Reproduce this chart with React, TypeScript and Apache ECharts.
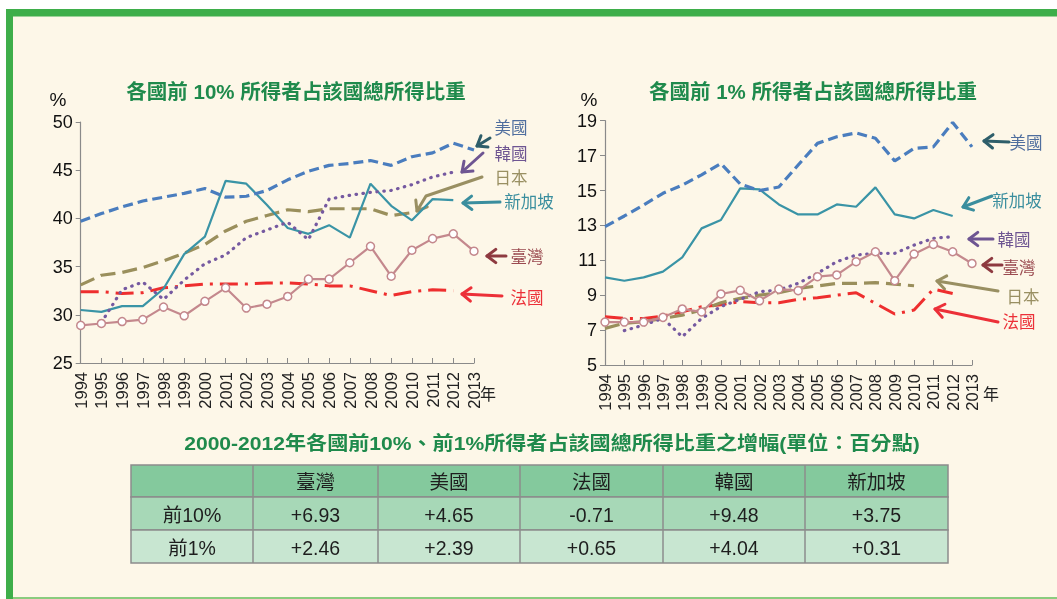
import React, { useEffect, useRef } from "react";
import * as echarts from "echarts";

const years = ["1994","1995","1996","1997","1998","1999","2000","2001","2002","2003","2004","2005","2006","2007","2008","2009","2010","2011","2012","2013"];

// Top 10% share
const us10 = [39.7,40.5,41.2,41.8,42.2,42.6,43.1,42.2,42.3,42.9,44.0,44.9,45.5,45.7,46.0,45.5,46.4,46.8,47.8,47.1];
const korea10 = [null,29.2,32.6,33.4,31.6,33.6,35.3,36.2,38.0,38.8,39.6,37.8,42.0,42.4,42.7,42.9,43.5,44.3,44.8,null];
const japan10 = [33.1,34.1,34.4,34.9,35.6,36.4,37.3,38.7,39.7,40.3,40.9,40.7,41.0,41.0,41.0,40.3,40.6,null,null,null];
const sg10 = [30.5,30.3,30.9,30.9,32.7,36.3,38.1,43.9,43.6,41.4,39.0,38.4,39.3,38.0,43.6,41.3,39.8,42.0,41.9,null];
const tw10 = [28.9,29.1,29.3,29.5,30.8,29.9,31.4,32.8,30.7,31.1,31.9,33.7,33.7,35.4,37.1,34.0,36.7,37.9,38.4,36.6];
const fr10 = [32.4,32.4,32.2,32.3,32.8,33.0,33.2,33.2,33.2,33.3,33.3,33.2,33.0,33.0,32.5,32.0,32.4,32.6,32.5,null];

// Top 1% share
const us1 = [12.93,13.54,14.17,14.84,15.31,15.9,16.55,15.37,15.0,15.2,16.46,17.7,18.08,18.3,17.99,16.7,17.41,17.5,18.9,17.5];
const sg1 = [10.02,9.83,10.02,10.35,11.17,12.83,13.31,15.12,15.06,14.2,13.63,13.63,14.2,14.07,15.18,13.63,13.4,13.88,13.54,null];
const tw1 = [7.46,7.46,7.46,7.73,8.21,8.04,9.07,9.28,8.68,9.35,9.26,10.06,10.16,10.92,11.49,9.83,11.36,11.91,11.49,10.82];
const korea1 = [null,6.97,7.29,7.67,6.62,7.67,8.35,8.76,9.2,9.3,9.68,10.25,10.92,11.3,11.4,11.4,11.87,12.26,12.35,null];
const japan1 = [7.1,7.39,7.48,7.67,7.86,8.15,8.57,8.82,9.0,9.14,9.39,9.53,9.68,9.68,9.72,9.64,9.54,null,null,null];
const fr1 = [7.77,7.67,7.67,7.8,8.05,8.34,8.45,8.63,8.57,8.57,8.76,8.86,9.0,9.14,8.53,7.92,8.15,9.35,9.1,null];

const leftTicks = [25, 50, 5];
const rightTicks = [5, 19, 2];

// table
const tableCols = ["臺灣", "美國", "法國", "韓國", "新加坡"];
const rowLabels = ["前10%", "前1%"];
const change10 = ["+6.93", "+4.65", "-0.71", "+9.48", "+3.75"];
const change1 = ["+2.46", "+2.39", "+0.65", "+4.04", "+0.31"];

const titleLeft = "各國前 10% 所得者占該國總所得比重";
const titleRight = "各國前 1% 所得者占該國總所得比重";
const tableTitle = "2000-2012年各國前10%、前1%所得者占該國總所得比重之增幅(單位：百分點)";

const C = {
  us: "#4A7DBE",
  korea: "#7559A0",
  japan: "#9A8F5C",
  sg: "#3A94A6",
  tw: "#C4888D",
  fr: "#EE2E2E",
};
const LBL = {
  us: "#4F6E9E",
  usArrow: "#2E5E6A",
  korea: "#6E5592",
  japan: "#998F62",
  sg: "#3A8E9E",
  tw: "#9A4A50",
  twArrow: "#8E3A40",
  fr: "#EC3038",
};

const FONT = "'Liberation Sans', Arial, 'Noto Sans CJK TC', sans-serif";
const CJK = "'Noto Sans CJK TC', 'Liberation Sans', sans-serif";

function arrow(x1: number, y1: number, x2: number, y2: number, color: string, pts?: number[][]) {
  const path = pts ? pts : [[x1, y1], [x2, y2]];
  const n = path.length;
  const [px, py] = path[n - 2];
  const [tx, ty] = path[n - 1];
  const ang = Math.atan2(ty - py, tx - px);
  const L = 11;
  const w = 0.65;
  const a1 = [tx - L * Math.cos(ang - w), ty - L * Math.sin(ang - w)];
  const a2 = [tx - L * Math.cos(ang + w), ty - L * Math.sin(ang + w)];
  return {
    type: "group",
    children: [
      { type: "polyline", shape: { points: path }, style: { stroke: color, lineWidth: 3, fill: null, lineCap: "round", lineJoin: "round" } },
      { type: "polyline", shape: { points: [a1, [tx, ty], a2] }, style: { stroke: color, lineWidth: 3, fill: null, lineCap: "round", lineJoin: "round" } },
    ],
  };
}

function label(text: string, x: number, y: number, color: string) {
  return {
    type: "text",
    x,
    y,
    style: { text, fill: color, font: `16.5px ${CJK}`, align: "center", verticalAlign: "middle" },
  };
}

function lineSeries(name: string, data: (number | null)[], color: string, axisIdx: number, style: any, extra: any = {}) {
  return {
    name,
    type: "line",
    xAxisIndex: axisIdx,
    yAxisIndex: axisIdx,
    data,
    symbol: "none",
    connectNulls: false,
    lineStyle: { color, width: 3, ...style },
    itemStyle: { color },
    silent: true,
    z: 3,
    ...extra,
  };
}

function buildTable() {
  const colX = [131, 253, 378, 520, 663, 805, 948];
  const rowY = [465, 497, 530, 563];
  const fills = ["#84C99D", "#A7D8B7", "#C8E6D1"];
  const els: any[] = [];
  for (let r = 0; r < 3; r++) {
    els.push({
      type: "rect",
      shape: { x: colX[0], y: rowY[r], width: colX[6] - colX[0], height: rowY[r + 1] - rowY[r] },
      style: { fill: fills[r], stroke: "#8C8C8C", lineWidth: 1.5 },
    });
  }
  for (let c = 1; c < 6; c++) {
    els.push({
      type: "line",
      shape: { x1: colX[c], y1: rowY[0], x2: colX[c], y2: rowY[3] },
      style: { stroke: "#8C8C8C", lineWidth: 1.5 },
    });
  }
  const rows = [tableCols, change10, change1];
  for (let r = 0; r < 3; r++) {
    const cells = r === 0 ? ["", ...tableCols] : [rowLabels[r - 1], ...rows[r]];
    for (let c = 0; c < 6; c++) {
      if (!cells[c]) continue;
      els.push({
        type: "text",
        x: (colX[c] + colX[c + 1]) / 2,
        y: (rowY[r] + rowY[r + 1]) / 2 + 1,
        style: { text: cells[c], fill: "#1E1E1E", font: `19.5px ${FONT}`, align: "center", verticalAlign: "middle" },
      });
    }
  }
  return els;
}

export default function App() {
  const ref = useRef<HTMLDivElement>(null);
  useEffect(() => {
    if (!ref.current) return;
    const chart = echarts.init(ref.current, null, { renderer: "svg" });

    const xAxisBase = (gi: number) => ({
      type: "category",
      gridIndex: gi,
      data: years,
      boundaryGap: false,
      axisLine: { lineStyle: { color: "#8A8A8A", width: 1.2 } },
      axisTick: { inside: true, length: 5, lineStyle: { color: "#8A8A8A" }, interval: 0 },
      axisLabel: { rotate: 90, interval: 0, color: "#222", fontSize: 16.5, fontFamily: FONT, margin: 9 },
      splitLine: { show: false },
    });
    const yAxisBase = (gi: number, t: number[]) => ({
      type: "value",
      gridIndex: gi,
      min: t[0],
      max: t[1],
      interval: t[2],
      axisLine: { show: true, lineStyle: { color: "#8A8A8A", width: 1.2 } },
      axisTick: { show: true, length: 5, lineStyle: { color: "#8A8A8A" } },
      axisLabel: { color: "#111", fontSize: 18, fontFamily: FONT, margin: 8 },
      splitLine: { show: false },
    });

    const twExtra = () => ({
      symbol: "circle",
      symbolSize: 8,
      showSymbol: true,
      itemStyle: { color: "#FFFFFF", borderColor: C.tw, borderWidth: 1.5 },
      lineStyle: { color: C.tw, width: 2.2 },
      z: 4,
    });

    const graphics: any[] = [
      { type: "rect", shape: { x: 0, y: 0, width: 1057, height: 599 }, style: { fill: "#FFFFFF" }, z: -10 },
      { type: "rect", shape: { x: 13, y: 16, width: 1044, height: 583 }, style: { fill: "#FDF7E8" }, z: -9 },
      { type: "rect", shape: { x: 6, y: 9, width: 1051, height: 7.5 }, style: { fill: "#3EAE4A" }, z: -8 },
      { type: "rect", shape: { x: 6, y: 9, width: 7, height: 590 }, style: { fill: "#3EAE4A" }, z: -8 },
      { type: "rect", shape: { x: 13, y: 597, width: 1044, height: 2 }, style: { fill: "#8ACC7E" }, z: -8 },
      { type: "text", x: 296, y: 91, style: { text: titleLeft, fill: "#1F8A4C", font: `bold 20.5px ${FONT}`, align: "center", verticalAlign: "middle" } },
      { type: "text", x: 813, y: 91, style: { text: titleRight, fill: "#1F8A4C", font: `bold 20.5px ${FONT}`, align: "center", verticalAlign: "middle" } },
      { type: "text", x: 58, y: 99, style: { text: "%", fill: "#111", font: `19px ${FONT}`, align: "center", verticalAlign: "middle" } },
      { type: "text", x: 589, y: 99, style: { text: "%", fill: "#111", font: `19px ${FONT}`, align: "center", verticalAlign: "middle" } },
      { type: "text", x: 488, y: 393, style: { text: "年", fill: "#222", font: `16px ${CJK}`, align: "center", verticalAlign: "middle" } },
      { type: "text", x: 991, y: 393, style: { text: "年", fill: "#222", font: `16px ${CJK}`, align: "center", verticalAlign: "middle" } },
      { type: "text", x: 552, y: 443, scaleX: 1.11, style: { text: tableTitle, fill: "#1F8A4C", font: `bold 19px ${FONT}`, align: "center", verticalAlign: "middle" } },
      // left labels
      label("美國", 511, 127, LBL.us),
      arrow(490, 138, 477, 146, LBL.usArrow),
      label("韓國", 511, 153, LBL.korea),
      arrow(483, 153, 462, 172, LBL.korea),
      label("日本", 511, 177, LBL.japan),
      arrow(0, 0, 0, 0, LBL.japan, [[482, 177], [426, 196], [417, 211]]),
      label("新加坡", 529, 201, LBL.sg),
      arrow(500, 202, 463, 203, LBL.sg),
      label("臺灣", 527, 256, LBL.tw),
      arrow(506, 256, 487, 256, LBL.twArrow),
      label("法國", 527, 297, LBL.fr),
      arrow(502, 296, 462, 294, LBL.fr),
      // right labels
      label("美國", 1026, 142, LBL.us),
      arrow(1009, 142, 984, 141, LBL.usArrow),
      label("新加坡", 1017, 200, LBL.sg),
      arrow(992, 196, 963, 207, LBL.sg),
      label("韓國", 1014, 239, LBL.korea),
      arrow(993, 239, 969, 239, LBL.korea),
      label("臺灣", 1019, 267, LBL.tw),
      arrow(1002, 265, 983, 265, LBL.twArrow),
      label("日本", 1023, 296, LBL.japan),
      arrow(998, 291, 937, 281, LBL.japan),
      label("法國", 1019, 321, LBL.fr),
      arrow(998, 322, 935, 309, LBL.fr),
      ...buildTable(),
    ];

    const option: any = {
      animation: false,
      backgroundColor: "transparent",
      grid: [
        { left: 80.7, top: 122, width: 393.3, height: 241 },
        { left: 605, top: 120.7, width: 367, height: 244.3 },
      ],
      xAxis: [xAxisBase(0), xAxisBase(1)],
      yAxis: [yAxisBase(0, leftTicks), yAxisBase(1, rightTicks)],
      series: [
        lineSeries("法國", fr10, C.fr, 0, { type: [18, 7, 3, 7], width: 3 }),
        lineSeries("日本", japan10, C.japan, 0, { type: [15, 7], width: 3.2 }),
        lineSeries("新加坡", sg10, C.sg, 0, { type: "solid", width: 2.2 }),
        lineSeries("韓國", korea10, C.korea, 0, { type: [0.5, 6.5], width: 3.2, cap: "round" }),
        lineSeries("美國", us10, C.us, 0, { type: [10, 5], width: 3.2 }),
        lineSeries("臺灣", tw10, C.tw, 0, {}, twExtra()),
        lineSeries("法國", fr1, C.fr, 1, { type: [18, 7, 3, 7], width: 3 }),
        lineSeries("日本", japan1, C.japan, 1, { type: [15, 7], width: 3.2 }),
        lineSeries("新加坡", sg1, C.sg, 1, { type: "solid", width: 2.2 }),
        lineSeries("韓國", korea1, C.korea, 1, { type: [0.5, 6.5], width: 3.2, cap: "round" }),
        lineSeries("美國", us1, C.us, 1, { type: [10, 5], width: 3.2 }),
        lineSeries("臺灣", tw1, C.tw, 1, {}, twExtra()),
      ],
      graphic: { elements: graphics },
    };
    chart.setOption(option);
    return () => chart.dispose();
  }, []);

  return (
    <div
      ref={ref}
      style={{ position: "fixed", left: 0, top: 0, width: 1057, height: 599 }}
    />
  );
}
